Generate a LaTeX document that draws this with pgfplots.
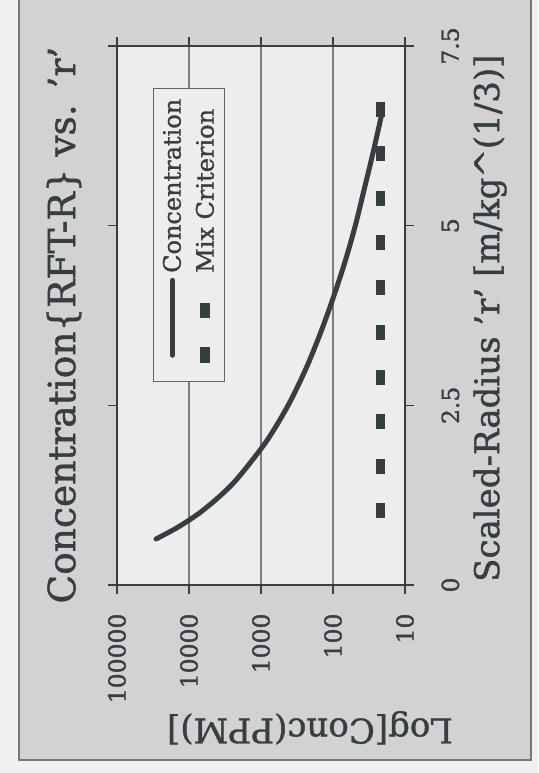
\documentclass[border=0pt]{standalone}
\usepackage{pgfplots}
\pgfplotsset{compat=1.18}
\usepackage{graphicx}
\usepackage{fontspec}
\setmainfont[FakeBold=1.2]{DejaVu Serif}

\definecolor{ink}{RGB}{55,62,66}
\definecolor{pagegray}{RGB}{210,210,210}
\definecolor{plotgray}{RGB}{237,237,237}
\definecolor{gridgray}{RGB}{125,125,125}

% flat rectangle marker, as in the scan
\pgfdeclareplotmark{hrect}{%
  \pgfpathrectangle{\pgfpoint{-7.5pt}{-4.5pt}}{\pgfpoint{15pt}{9pt}}%
  \pgfusepathqfill}

\begin{document}
\rotatebox{90}{%
\begin{tikzpicture}[x=1pt,y=1pt]
\path[use as bounding box] (0,0) rectangle (773,538);
\fill[white!94!black] (0,0) rectangle (773,538);
\filldraw[fill=pagegray, draw=ink!70, line width=1.2pt] (13,7) rectangle (785,519);
\node[font=\fontsize{37.5}{40}\selectfont, text=ink] at (448,474) {Concentration\{RFT-R\} vs. 'r'};

\begin{axis}[
    at={(188pt,133pt)}, anchor=south west,
    scale only axis, width=539pt, height=288pt,
    xmin=0, xmax=7.5,
    ymode=log, ymin=10, ymax=100000,
    xtick={0,2.5,5,7.5}, xticklabels={0,2.5,5,7.5},
    ytick={10,100,1000,10000,100000},
    yticklabels={10,100,1000,10000,100000},
    yminorticks=false,
    ymajorgrids, grid style={gridgray, line width=1.2pt},
    axis line style={ink, line width=2pt},
    tick style={ink, line width=1.4pt},
    tick align=outside, major tick length=9pt,
    axis background/.style={fill=plotgray},
    /pgf/number format/assume math mode=true,
    ticklabel style={font=\fontsize{23.5}{26}\selectfont, text=ink},
    xticklabel style={yshift=-24pt},
    yticklabel style={xshift=-16pt},
    xlabel={Scaled-Radius 'r' [m/kg\textasciicircum(1/3)]},
    ylabel={Log[Conc(PPM)]},
    label style={font=\fontsize{34}{36}\selectfont, text=ink},
    xlabel style={at={(axis description cs:0.495,-0.295)}, anchor=center},
    ylabel style={at={(axis description cs:-0.265,0.33)}, anchor=center},
    legend cell align=left,
    legend style={
        at={(rel axis cs:0.377,0.875)}, anchor=north west,
        draw=ink!80, line width=1pt, fill=plotgray,
        inner xsep=10pt, inner ysep=9pt,
        row sep=13pt, column sep=5pt,
        nodes={inner sep=0pt, text=ink},
        font=\fontsize{24}{26}\selectfont
    }
]

\addplot[ink, line width=5pt, line cap=round, smooth,
    legend image code/.code={
        \path[draw=none, fill=none] (0pt,-10pt) rectangle (91pt,10pt);
        \draw[ink, line width=5pt] (16pt,0pt) -- (91pt,0pt);}]
coordinates {
    (0.64,28700) (0.8,14500) (1.0,7200) (1.25,3600) (1.5,2050)
    (2.0,840) (2.5,420) (3.0,240) (3.5,150) (4.0,99)
    (4.5,68) (5.0,49) (5.5,37) (6.0,28) (6.61,20.4)
};
\addlegendentry{Concentration}

\addplot[only marks, mark=hrect, ink,
    legend image code/.code={
        \path[draw=none, fill=none] (0pt,-10pt) rectangle (91pt,10pt);
        \fill[ink] (9pt,-4.5pt) rectangle (24pt,4.5pt);
        \fill[ink] (54pt,-4.5pt) rectangle (68pt,4.5pt);}]
coordinates {
    (1.03,22) (1.65,22) (2.27,22) (2.89,22) (3.52,22)
    (4.14,22) (4.76,22) (5.38,22) (6.0,22) (6.62,22)
};
\addlegendentry{Mix Criterion}

\end{axis}
\end{tikzpicture}}
\end{document}
